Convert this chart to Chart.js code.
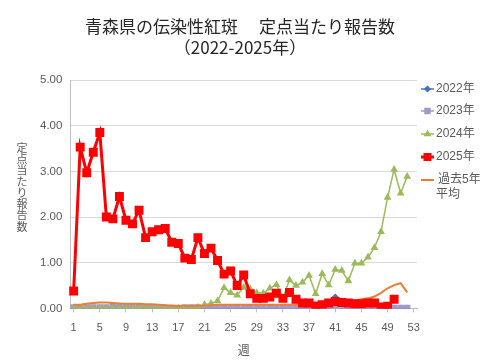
<!DOCTYPE html>
<html>
<head>
<meta charset="utf-8">
<script src="https://cdn.jsdelivr.net/npm/chart.js@4/dist/chart.umd.min.js"></script>
<style>
  html, body { margin: 0; padding: 0; background: #fff; }
  #wrap { width: 480px; height: 360px; }
</style>
</head>
<body>
<div id="wrap"><canvas id="chart" width="480" height="360"></canvas></div>
<script>
// weeks 1..53
const weeks = [1, 2, 3, 4, 5, 6, 7, 8, 9, 10, 11, 12, 13, 14, 15, 16, 17, 18, 19, 20,
    21, 22, 23, 24, 25, 26, 27, 28, 29, 30, 31, 32, 33, 34, 35, 36, 37, 38, 39, 40,
    41, 42, 43, 44, 45, 46, 47, 48, 49, 50, 51, 52, 53];

const seriesNames = ['2022年', '2023年', '2024年', '2025年', '過去5年平均'];

const data2022 = [0, 0, 0, 0, 0, 0, 0, 0, 0, 0, 0, 0, 0, 0, 0, 0, 0, 0, 0, 0,
    0, 0, 0, 0, 0, 0, 0, 0, 0, 0, 0, 0, 0, 0, 0, 0, 0, 0, 0, 0,
    0.25, 0.03, 0, 0, 0, 0, 0, 0, 0, 0, 0, 0, null];

const data2023 = [0.02, 0.02, 0.02, 0.02, 0.02, 0.02, 0.04, 0.04, 0.04, 0.03, 0.03, 0.02, 0.02, 0.02, 0.01, 0.01, 0.01, 0.02, 0.02, 0.02,
    0.01, 0.01, 0.01, 0.01, 0.01, 0.01, 0.01, 0.01, 0.01, 0.01, 0.01, 0.01, 0.01, 0.01, 0.01, 0.01, 0.01, 0.01, 0.01, 0.01,
    0.01, 0.01, 0.01, 0.01, 0.01, 0.01, 0.01, 0.01, 0.01, 0.01, 0.01, 0.01, null];

const data2024 = [0, 0, 0, 0, 0, 0, 0, 0, 0, 0, 0, 0, 0, 0, 0, 0, 0, 0, 0, 0.02,
    0.08, 0.11, 0.16, 0.45, 0.34, 0.29, 0.46, 0.42, 0.34, 0.33, 0.44, 0.52, 0.24, 0.62, 0.50, 0.57, 0.72, 0.32, 0.76, 0.51,
    0.85, 0.83, 0.60, 0.99, 0.99, 1.12, 1.33, 1.68, 2.43, 3.04, 2.52, 2.89, null];

const data2025 = [0.38, 3.53, 2.97, 3.42, 3.85, 2.00, 1.96, 2.45, 1.93, 1.85, 2.15, 1.55, 1.68, 1.72, 1.75, 1.45, 1.42, 1.10, 1.07, 1.55,
    1.20, 1.32, 1.05, 0.75, 0.82, 0.50, 0.73, 0.32, 0.22, 0.22, 0.25, 0.33, 0.22, 0.35, 0.20, 0.12, 0.12, 0.05, 0.08, 0.12,
    0.15, 0.13, 0.12, 0.10, 0.10, 0.12, 0.12, 0.03, 0.05, 0.20, null, null, null];

const avg5 = [0.08, 0.08, 0.10, 0.12, 0.13, 0.13, 0.12, 0.11, 0.10, 0.10, 0.10, 0.09, 0.09, 0.08, 0.07, 0.06, 0.05, 0.05, 0.05, 0.06,
    0.06, 0.07, 0.08, 0.08, 0.08, 0.08, 0.08, 0.08, 0.08, 0.08, 0.08, 0.08, 0.08, 0.08, 0.08, 0.11, 0.13, 0.13, 0.13, 0.14,
    0.16, 0.16, 0.16, 0.17, 0.20, 0.22, 0.26, 0.34, 0.44, 0.51, 0.55, 0.35, null];

const titleLines = ['青森県の伝染性紅斑　 定点当たり報告数', '（2022-2025年）'];
const yTitle = '定点当たり報告数';
const gray = '#595959';

// title centred on the page, vertical y title and the legend at the right
const sideText = {
    id: 'sideText',
    afterDraw(chart) {
        const ctx = chart.ctx;
        ctx.save();
        ctx.fillStyle = '#262626';
        ctx.font = '17px "Noto Sans CJK JP"';
        ctx.textAlign = 'center';
        ctx.textBaseline = 'middle';
        ctx.fillText(titleLines[0], 240, 27);
        ctx.fillText(titleLines[1], 240, 48);

        ctx.fillStyle = gray;
        ctx.font = '11px "Noto Sans CJK JP"';
        const step = 11.3;
        [...yTitle].forEach((ch, i) => {
            ctx.fillText(ch, 22, 187 + (i - (yTitle.length - 1) / 2) * step);
        });

        const rows = [89, 111, 134, 157, 180];
        chart.data.datasets.forEach((ds, i) => {
            const y = rows[i];
            ctx.strokeStyle = ds.borderColor;
            ctx.lineWidth = ds.borderWidth;
            ctx.beginPath();
            ctx.moveTo(421, y);
            ctx.lineTo(434, y);
            ctx.stroke();
            if (ds.pointRadius > 0) {
                ctx.fillStyle = ds.pointBackgroundColor;
                ctx.strokeStyle = ds.borderColor;
                Chart.helpers.drawPoint(ctx, {
                    pointStyle: ds.pointStyle, rotation: 0,
                    radius: Math.min(ds.pointRadius, 3.5), borderWidth: 1
                }, 427.5, y);
            }
            ctx.fillStyle = gray;
            ctx.font = '12px "Liberation Sans", "Noto Sans CJK JP"';
            ctx.textAlign = 'left';
            if (i === 4) {
                ctx.fillText('過去5年', 438, y);
                ctx.fillText('平均', 436, y + 15);
            } else {
                ctx.fillText(ds.label, 436, y);
            }
        });
        ctx.restore();
    }
};

const datasets = [
    { label: seriesNames[0], data: data2022, borderColor: '#4472C4', pointBackgroundColor: '#4472C4',
      borderWidth: 1.5, pointStyle: 'rectRot', pointRadius: 2.5, order: 4 },
    { label: seriesNames[1], data: data2023, borderColor: '#A597CE', pointBackgroundColor: '#A597CE',
      borderWidth: 1.5, pointStyle: 'rect', pointRadius: 3.5, order: 3 },
    { label: seriesNames[2], data: data2024, borderColor: '#9BBB59', pointBackgroundColor: '#9BBB59',
      borderWidth: 1.5, pointStyle: 'triangle', pointRadius: 3, order: 2 },
    { label: seriesNames[3], data: data2025, borderColor: '#FF0000', pointBackgroundColor: '#FF0000',
      borderWidth: 3, pointStyle: 'rect', pointRadius: 4.2, order: 0 },
    { label: seriesNames[4], data: avg5, borderColor: '#ED7D31', pointBackgroundColor: '#ED7D31',
      borderWidth: 2, pointRadius: 0, order: 1 }
];

new Chart(document.getElementById('chart'), {
    type: 'line',
    data: { labels: weeks, datasets: datasets },
    options: {
        responsive: false,
        animation: false,
        layout: { padding: { top: 80, left: 32, right: 63, bottom: 2 } },
        elements: { line: { tension: 0 }, point: { borderWidth: 1, hoverRadius: 3 } },
        plugins: {
            legend: { display: false },
            tooltip: { enabled: false },
            title: { display: false }
        },
        scales: {
            x: {
                offset: true,
                grid: {
                    drawOnChartArea: false,
                    offset: false,
                    tickLength: 4,
                    color: (c) => (c.index % 4 === 0 ? '#bfbfbf' : 'rgba(0,0,0,0)')
                },
                border: { color: '#bfbfbf' },
                ticks: {
                    autoSkip: false,
                    maxRotation: 0,
                    color: gray,
                    font: { family: '"Liberation Sans"', size: 11 },
                    padding: 9,
                    callback: function (v, i) { return i % 4 === 0 ? this.getLabelForValue(v) : ''; }
                },
                title: {
                    display: true, text: '週', color: gray,
                    font: { family: '"Noto Sans CJK JP"', size: 12 },
                    padding: { top: 0, bottom: 0 }
                }
            },
            y: {
                min: 0, max: 5,
                grid: { color: '#d9d9d9', drawTicks: false },
                border: { color: '#bfbfbf' },
                ticks: {
                    stepSize: 1, color: gray, padding: 8,
                    font: { family: '"Liberation Sans"', size: 11.5 },
                    callback: (v) => v.toFixed(2)
                }
            }
        }
    },
    plugins: [sideText]
});
</script>
</body>
</html>
